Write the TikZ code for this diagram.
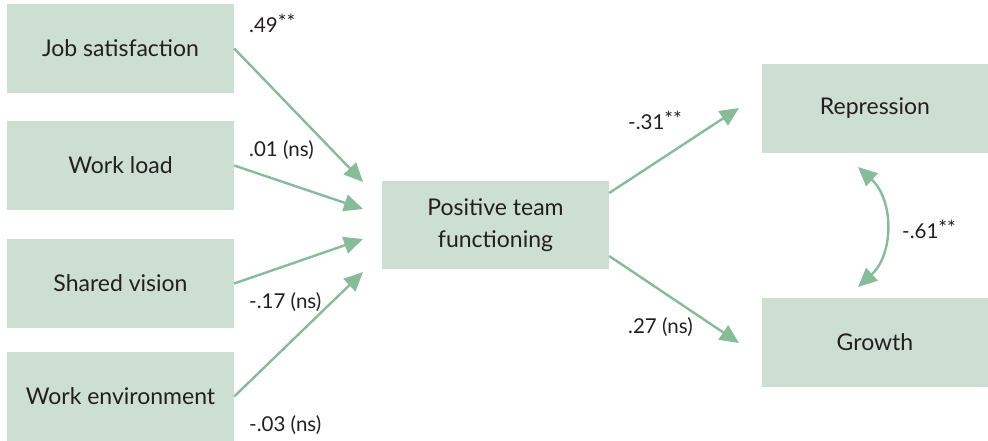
\documentclass[tikz,border=0pt]{standalone}
\usepackage{fontspec}
\setmainfont{Lato}
\usetikzlibrary{arrows.meta,calc}
\definecolor{boxgreen}{HTML}{CDDFD2}
\definecolor{linegreen}{HTML}{88BB9A}
\definecolor{inkgray}{HTML}{231F20}
\newcommand{\stars}{\raisebox{3pt}{**}}
\begin{document}
\begin{tikzpicture}[x=1pt,y=-1pt,
  var/.style={fill=boxgreen,draw=none,minimum width=227pt,minimum height=89pt,
    inner sep=0pt,align=center,text=inkgray,font=\fontsize{23}{32}\selectfont},
  path/.style={draw=linegreen,line width=2.4pt,
    -{Triangle[length=19pt,width=17pt]}},
  coef/.style={text=inkgray,font=\fontsize{20.5}{24}\selectfont,anchor=west,inner sep=0pt}]
\useasboundingbox (0,0) rectangle (988,441);
% predictors
\node[var] (js) at (120.5,48.5) {Job satisfaction};
\node[var] (wl) at (120.5,165.5) {Work load};
\node[var] (sv) at (120.5,283.5) {Shared vision};
\node[var] (we) at (120.5,396.5) {Work environment};
% mediator
\node[var,minimum height=88pt] (ptf) at (495.5,225) {Positive team\\functioning};
% outcomes
\node[var,minimum width=226pt] (rep) at (875,108.5) {Repression};
\node[var,minimum width=226pt] (gro) at (875,342.5) {Growth};
% arrow ends in front of the mediator
\coordinate (a1) at (363,182);
\coordinate (a2) at (363,209);
\coordinate (a3) at (363,239);
\coordinate (a4) at (363,272);
\coordinate (b1) at (739,108);
\coordinate (b2) at (739,343);
\coordinate (c1) at (858,167);
\coordinate (c2) at (858,287);
\draw[path] (js.east) -- (a1);
\draw[path] (wl.east) -- (a2);
\draw[path] (sv.east) -- (a3);
\draw[path] (we.east) -- (a4);
\draw[path] (ptf.east |- 0,193) -- (b1);
\draw[path] (ptf.east |- 0,256) -- (b2);
\draw[draw=linegreen,line width=2.4pt,
  {Triangle[length=19pt,width=17pt]}-{Triangle[length=19pt,width=17pt]}]
  (c1) .. controls (894,200) and (894,254) .. (c2);
% coefficients
\node[coef] (l1) at (249,23) {.49\stars};
\node[coef] (l2) at (249,150) {.01 (ns)};
\node[coef] (l3) at (249,302) {-.17 (ns)};
\node[coef] (l4) at (249,425) {-.03 (ns)};
\node[coef] (l5) at (628,120) {-.31\stars};
\node[coef] (l6) at (628,327) {.27 (ns)};
\node[coef] (l7) at (902,229) {-.61\stars};
\end{tikzpicture}
\end{document}
